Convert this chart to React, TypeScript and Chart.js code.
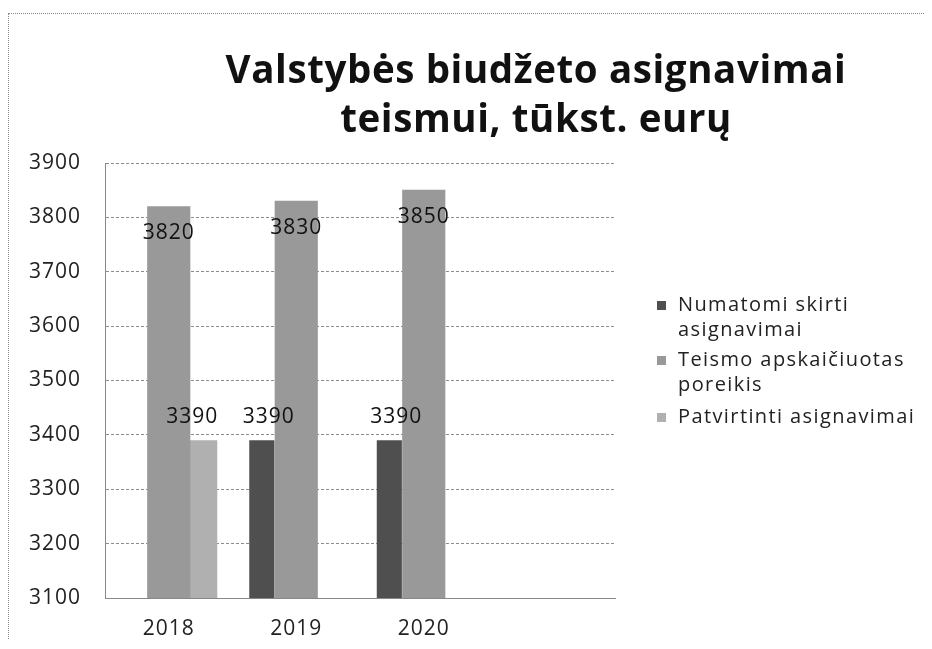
import React, { useEffect, useRef } from "react";
import { Chart, registerables } from "chart.js";

Chart.register(...registerables);

const titleLines = ["Valstybės biudžeto asignavimai", "teismui, tūkst. eurų"];
const categories = ["2018", "2019", "2020", ""];
const seriesNames = [
  "Numatomi skirti asignavimai",
  "Teismo apskaičiuotas poreikis",
  "Patvirtinti asignavimai",
];
const legendLines = [
  ["Numatomi skirti", "asignavimai"],
  ["Teismo apskaičiuotas", "poreikis"],
  ["Patvirtinti asignavimai"],
];
const numatomi: (number | null)[] = [null, 3390, 3390, null];
const teismo: (number | null)[] = [3820, 3830, 3850, null];
const patvirtinti: (number | null)[] = [3390, null, null, null];
const yMin = 3100;
const yMax = 3900;
const yStep = 100;

const colors = ["#4f4f4f", "#999999", "#b0b0b0"];
const FONT = "'Open Sans', Lato, sans-serif";

const spacingPlugin = {
  id: "spacing",
  beforeDraw(chart: any) {
    chart.ctx.letterSpacing = "1px";
  },
};

const titlePlugin = {
  id: "customTitle",
  afterDraw(chart: any) {
    const ctx = chart.ctx;
    ctx.save();
    ctx.letterSpacing = "0.6px";
    ctx.fillStyle = "#111";
    ctx.font = `bold 38.5px ${FONT}`;
    ctx.textAlign = "center";
    ctx.textBaseline = "alphabetic";
    ctx.fillText(titleLines[0], 527, 69);
    ctx.fillText(titleLines[1], 527, 118);
    ctx.restore();
  },
};

const legendPlugin = {
  id: "customLegend",
  afterDraw(chart: any) {
    const ctx = chart.ctx;
    ctx.save();
    ctx.letterSpacing = "1.4px";
    ctx.font = `20px ${FONT}`;
    ctx.textAlign = "left";
    ctx.textBaseline = "middle";
    const starts = [291, 346, 403];
    legendLines.forEach((lines, i) => {
      const y0 = starts[i];
      ctx.fillStyle = colors[i];
      ctx.fillRect(648, y0 - 4, 9, 9);
      ctx.fillStyle = "#222";
      lines.forEach((line, k) => {
        ctx.fillText(line, 669, y0 + k * 25);
      });
    });
    ctx.restore();
  },
};

const valueLabelPlugin = {
  id: "valueLabels",
  afterDatasetsDraw(chart: any) {
    const ctx = chart.ctx;
    ctx.save();
    ctx.letterSpacing = "1px";
    ctx.font = `21px ${FONT}`;
    ctx.fillStyle = "#111";
    ctx.textAlign = "center";
    ctx.textBaseline = "middle";
    const dx = [7, 0, -11];
    chart.data.datasets.forEach((ds: any, i: number) => {
      const meta = chart.getDatasetMeta(i);
      meta.data.forEach((el: any, j: number) => {
        const v = ds.data[j];
        if (v === null || v === undefined) return;
        const y = v > 3700 ? el.y + 27 : el.y - 23;
        ctx.fillText(String(v), el.x + dx[i], y);
      });
    });
    ctx.restore();
  },
};

export default function App() {
  const ref = useRef<HTMLCanvasElement | null>(null);
  useEffect(() => {
    if (!ref.current) return;
    const chart = new Chart(ref.current, {
      type: "bar",
      data: {
        labels: categories,
        datasets: [
          {
            label: seriesNames[0],
            data: numatomi,
            backgroundColor: colors[0],
            categoryPercentage: 0.81,
            barPercentage: 0.73,
          },
          {
            label: seriesNames[1],
            data: teismo,
            backgroundColor: colors[1],
            categoryPercentage: 1,
            barPercentage: 1,
          },
          {
            label: seriesNames[2],
            data: patvirtinti,
            backgroundColor: colors[2],
            categoryPercentage: 0.81,
            barPercentage: 0.82,
          },
        ],
      },
      options: {
        responsive: false,
        animation: false,
        layout: { padding: { left: 0, top: 149, right: 309, bottom: 0 } },
        plugins: {
          legend: { display: false },
          title: { display: false },
          tooltip: { enabled: false },
        },
        scales: {
          x: {
            grid: { display: false, drawTicks: false },
            border: { display: true, color: "#888" },
            ticks: {
              padding: 18,
              color: "#222",
              font: { family: FONT, size: 21 },
            },
            afterFit: (s: any) => {
              s.height = 41;
            },
          },
          y: {
            min: yMin,
            max: yMax,
            grid: { color: "#8c8c8c", drawTicks: false, lineWidth: 1 },
            border: { display: true, color: "#888", dash: [3, 2] },
            ticks: {
              stepSize: yStep,
              padding: 24,
              color: "#222",
              font: { family: FONT, size: 21 },
              callback: (v: any) => String(v),
            },
            afterFit: (s: any) => {
              s.width = 96;
            },
          },
        },
      },
      plugins: [spacingPlugin, titlePlugin, legendPlugin, valueLabelPlugin],
    });
    return () => chart.destroy();
  }, []);

  return (
    <div
      style={{
        marginTop: 5,
        borderTop: "1px dotted #8a8a8a",
        borderLeft: "1px dotted #8a8a8a",
        background: "#fff",
      }}
    >
      <canvas ref={ref} width={915} height={625} style={{ display: "block" }} />
    </div>
  );
}
